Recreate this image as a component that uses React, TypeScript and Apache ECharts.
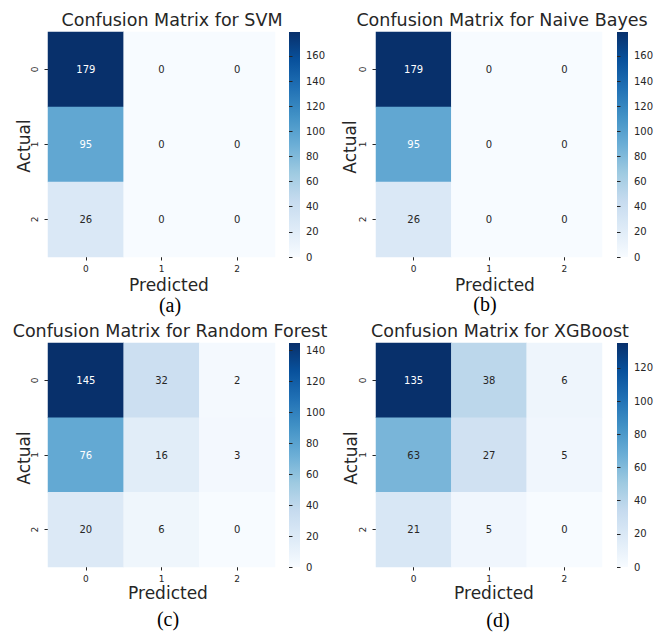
import React, { useEffect, useRef } from "react";
import * as echarts from "echarts";

// ---------- data ----------
const classLabels = ["0", "1", "2"];
const svmMatrix = [
  [179, 0, 0],
  [95, 0, 0],
  [26, 0, 0],
];
const naiveBayesMatrix = [
  [179, 0, 0],
  [95, 0, 0],
  [26, 0, 0],
];
const randomForestMatrix = [
  [145, 32, 2],
  [76, 16, 3],
  [20, 6, 0],
];
const xgboostMatrix = [
  [135, 38, 6],
  [63, 27, 5],
  [21, 5, 0],
];
const titles = [
  "Confusion Matrix for SVM",
  "Confusion Matrix for Naive Bayes",
  "Confusion Matrix for Random Forest",
  "Confusion Matrix for XGBoost",
];
const captions = ["(a)", "(b)", "(c)", "(d)"];
const colorbarTicksSvm = [0, 20, 40, 60, 80, 100, 120, 140, 160];
const colorbarTicksNb = [0, 20, 40, 60, 80, 100, 120, 140, 160];
const colorbarTicksRf = [0, 20, 40, 60, 80, 100, 120, 140];
const colorbarTicksXgb = [0, 20, 40, 60, 80, 100, 120];
const xName = "Predicted";
const yName = "Actual";

const matrices = [svmMatrix, naiveBayesMatrix, randomForestMatrix, xgboostMatrix];
const colorbarTicks = [colorbarTicksSvm, colorbarTicksNb, colorbarTicksRf, colorbarTicksXgb];

// ---------- style / layout ----------
const BLUES = [
  "#f7fbff", "#deebf7", "#c6dbef", "#9ecae1", "#6baed6",
  "#4292c6", "#2171b5", "#08519c", "#08306b",
];
const FONT = '"DejaVu Sans", sans-serif';
const TEXT = "#262626";

const layout = [
  { gl: 48, gt: 32, gw: 227, gh: 225, cb: 289, title: [172, 20], pred: [169, 285], actual: [24, 146], cap: [170, 305] },
  { gl: 376, gt: 32, gw: 226, gh: 225, cb: 617, title: [502, 20], pred: [495, 285], actual: [350, 147], cap: [485, 304] },
  { gl: 48, gt: 343, gw: 227, gh: 224, cb: 289, title: [170, 331], pred: [168, 593], actual: [24, 458], cap: [168, 619] },
  { gl: 376, gt: 343, gw: 226, gh: 224, cb: 617, title: [500, 331], pred: [494, 593], actual: [351, 458], cap: [498, 620] },
];

function hexToRgb(h: string) {
  return [parseInt(h.slice(1, 3), 16), parseInt(h.slice(3, 5), 16), parseInt(h.slice(5, 7), 16)];
}
function bluesAt(t: number) {
  const n = BLUES.length - 1;
  const p = Math.min(Math.max(t, 0), 1) * n;
  const i = Math.min(Math.floor(p), n - 1);
  const f = p - i;
  const a = hexToRgb(BLUES[i]);
  const b = hexToRgb(BLUES[i + 1]);
  return a.map((v, k) => v + (b[k] - v) * f);
}
function textColorFor(t: number) {
  const rgb = bluesAt(t).map((v) => {
    const c = v / 255;
    return c <= 0.03928 ? c / 12.92 : Math.pow((c + 0.055) / 1.055, 2.4);
  });
  const lum = 0.2126 * rgb[0] + 0.7152 * rgb[1] + 0.0722 * rgb[2];
  return lum > 0.408 ? TEXT : "#ffffff";
}

function textEl(x: number, y: number, text: string, size: number, family: string, fill: string, rotation = 0) {
  return {
    type: "text",
    x,
    y,
    rotation,
    silent: true,
    style: {
      text,
      fontSize: size,
      fontFamily: family,
      fill,
      textAlign: "center",
      textVerticalAlign: "middle",
      align: "center",
      verticalAlign: "middle",
    },
  };
}

function buildOption() {
  const grid: any[] = [];
  const xAxis: any[] = [];
  const yAxis: any[] = [];
  const series: any[] = [];
  const visualMap: any[] = [];
  const graphic: any[] = [];

  matrices.forEach((m, i) => {
    const L = layout[i];
    const max = Math.max(...m.flat());
    grid.push({ left: L.gl, top: L.gt, width: L.gw, height: L.gh, containLabel: false });
    xAxis.push({
      type: "category",
      gridIndex: i,
      data: classLabels,
      axisLine: { show: false },
      axisTick: { show: true, alignWithLabel: true, length: 3.5, lineStyle: { color: TEXT } },
      axisLabel: { fontSize: 9, color: TEXT, fontFamily: FONT, margin: 7 },
      splitLine: { show: false },
    });
    yAxis.push({
      type: "category",
      gridIndex: i,
      data: classLabels,
      inverse: true,
      axisLine: { show: false },
      axisTick: { show: true, alignWithLabel: true, length: 3.5, lineStyle: { color: TEXT } },
      axisLabel: { fontSize: 9, color: TEXT, fontFamily: FONT, margin: 9, rotate: 90 },
      splitLine: { show: false },
    });
    const cells: any[] = [];
    m.forEach((row, r) =>
      row.forEach((v, c) => {
        cells.push({ value: [c, r, v], label: { color: textColorFor(v / max) } });
      })
    );
    series.push({
      type: "heatmap",
      xAxisIndex: i,
      yAxisIndex: i,
      data: cells,
      label: {
        show: true,
        fontSize: 10,
        fontFamily: FONT,
        formatter: (p: any) => String(p.value[2]),
      },
      emphasis: { disabled: true },
      itemStyle: { borderWidth: 0 },
    });
    visualMap.push({
      type: "continuous",
      show: false,
      seriesIndex: i,
      min: 0,
      max,
      inRange: { color: BLUES },
    });
  });

  // colorbars
  matrices.forEach((m, i) => {
    const L = layout[i];
    const max = Math.max(...m.flat());
    const gi = 4 + i;
    grid.push({ left: L.cb, top: L.gt, width: 11, height: L.gh, containLabel: false });
    xAxis.push({ type: "value", gridIndex: gi, show: false, min: 0, max: 1 });
    yAxis.push({
      type: "value",
      gridIndex: gi,
      position: "right",
      min: 0,
      max,
      axisLine: { show: false },
      splitLine: { show: false },
      axisTick: {
        show: true,
        length: 3.5,
        lineStyle: { color: TEXT },
        customValues: colorbarTicks[i],
      },
      axisLabel: {
        fontSize: 10,
        color: TEXT,
        fontFamily: FONT,
        margin: 6,
        customValues: colorbarTicks[i],
      },
    });
    series.push({
      type: "scatter",
      xAxisIndex: gi,
      yAxisIndex: gi,
      data: [],
      silent: true,
    });

    graphic.push({
      type: "rect",
      silent: true,
      shape: { x: L.cb, y: L.gt, width: 11, height: L.gh },
      style: {
        fill: new echarts.graphic.LinearGradient(
          0, 1, 0, 0,
          BLUES.map((c, k) => ({ offset: k / (BLUES.length - 1), color: c }))
        ),
      },
    });
    graphic.push(textEl(L.title[0], L.title[1], titles[i], 17.5, FONT, TEXT));
    graphic.push(textEl(L.pred[0], L.pred[1], xName, 17, FONT, TEXT));
    graphic.push(textEl(L.actual[0], L.actual[1], yName, 17, FONT, TEXT, Math.PI / 2));
    graphic.push(
      textEl(L.cap[0], L.cap[1], captions[i], 20, '"Liberation Serif", "Times New Roman", serif', "#000000")
    );
  });

  return {
    animation: false,
    backgroundColor: "#ffffff",
    textStyle: { fontFamily: FONT },
    grid,
    xAxis,
    yAxis,
    visualMap,
    series,
    graphic,
  };
}

export default function App() {
  const ref = useRef<HTMLDivElement>(null);
  useEffect(() => {
    if (!ref.current) return;
    const chart = echarts.init(ref.current, undefined, { renderer: "svg" });
    chart.setOption(buildOption() as any);
    return () => chart.dispose();
  }, []);
  return (
    <div
      ref={ref}
      style={{ position: "fixed", left: 0, top: 0, width: 666, height: 632, background: "#fff" }}
    />
  );
}
